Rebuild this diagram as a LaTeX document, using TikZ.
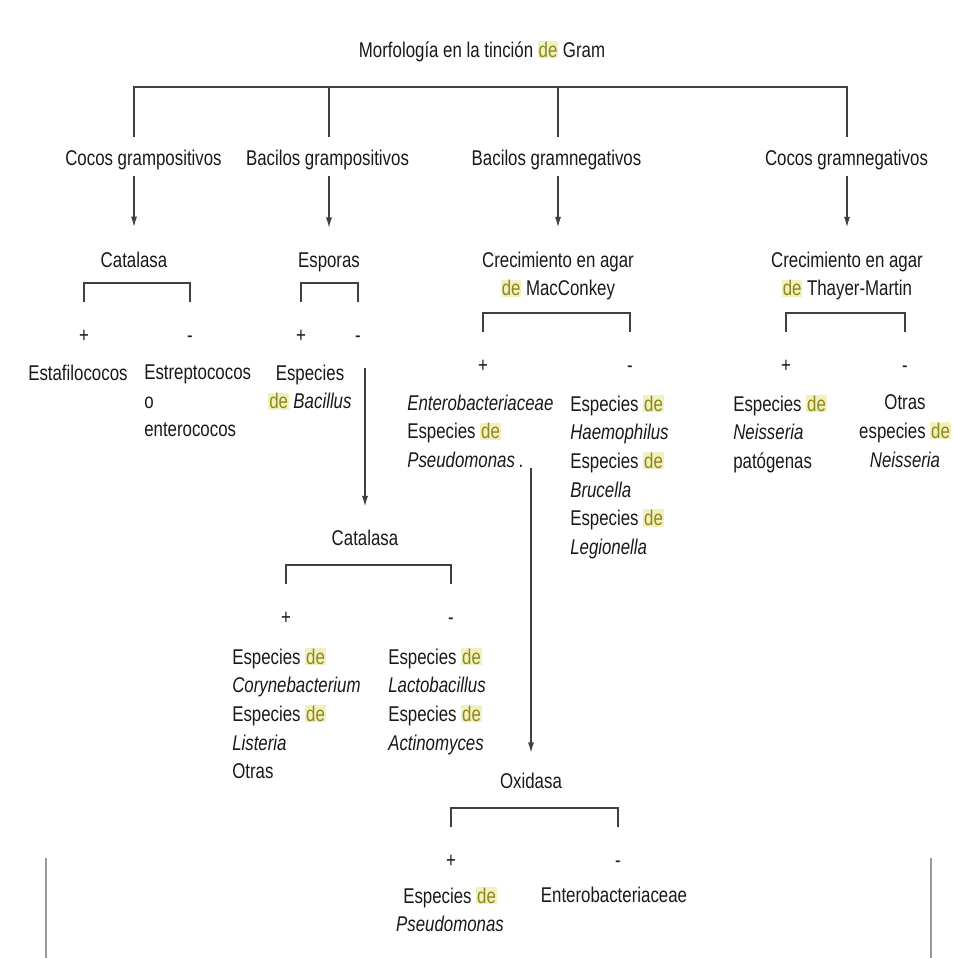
\documentclass[tikz,border=0pt]{standalone}
\usepackage{fontspec}
\setmainfont[FakeStretch=0.79]{Liberation Sans}
\usepackage{xcolor}
\usepackage{tikz}
\usetikzlibrary{calc, arrows.meta, positioning}

\definecolor{fondode}{RGB}{242,240,190}
\definecolor{textode}{RGB}{140,136,28}
\newcommand{\hde}{{\setlength{\fboxsep}{0.6pt}\colorbox{fondode}{\textcolor{textode}{de}}}}

\begin{document}
\begin{tikzpicture}[x=0.75pt, y=-0.75pt, >={Latex[length=8pt,width=4.6pt]},
    every node/.style={inner sep=0pt, text=black!90, font=\fontsize{16}{21.5}\selectfont},
    linea/.style={line width=1.1pt, draw=black!75},
    flecha/.style={linea, ->},
    signo/.style={anchor=base},
    marco/.style={line width=1.5pt, draw=black!40}]
    \useasboundingbox (0,0) rectangle (953,958);

    % Tiêu đề
    \node[anchor=base] (titulo) at (482,57) {Morfología en la tinción \hde{} Gram};
    \coordinate (barra) at ([yshift=-19pt]titulo.south);

    % Bốn nhóm theo hình thái
    \node[anchor=base] (cocpos) at (143.5,165) {Cocos grampositivos};
    \node[anchor=base] (bacpos) at (327.5,165) {Bacilos grampositivos};
    \node[anchor=base] (bacneg) at (556.5,165) {Bacilos gramnegativos};
    \node[anchor=base] (cocneg) at (846.5,165) {Cocos gramnegativos};

    % Các phép thử tầng hai
    \node[anchor=base] (cat1) at (134,267) {Catalasa};
    \node[anchor=base] (esp) at (329,267) {Esporas};
    \node[anchor=north, align=center] (mac) at (558,251.5) {Crecimiento en agar\\\hde{} MacConkey};
    \node[anchor=north, align=center] (thay) at (847,251.5) {Crecimiento en agar\\\hde{} Thayer-Martin};

    % Đường nối từ tiêu đề xuống
    \foreach \a/\b in {cocpos/cat1, bacpos/esp, bacneg/mac, cocneg/thay} {
        \draw[linea, shorten <=9.5pt] (\b |- \a.north) |- (barra);
        \draw[flecha, shorten <=4.5pt, shorten >=18pt] (\b |- \a.south) -- (\b.north);
    }

    % Dấu + và -
    \node[signo] (mas1) at (84,342) {+};
    \node[signo] (menos1) at (190,342) {-};
    \node[signo] (mas2) at (301,342) {+};
    \node[signo] (menos2) at (358,342) {-};
    \node[signo] (mas3) at (483,372) {+};
    \node[signo] (menos3) at (630,372) {-};
    \node[signo] (mas4) at (786,372) {+};
    \node[signo] (menos4) at (905,372) {-};
    \node[signo] (mas5) at (286,624) {+};
    \node[signo] (menos5) at (451,624) {-};
    \node[signo] (mas6) at (451,867) {+};
    \node[signo] (menos6) at (618,867) {-};

    % Ngoặc phân nhánh
    \foreach \p/\m in {mas1/menos1, mas2/menos2, mas3/menos3, mas4/menos4, mas5/menos5, mas6/menos6}
        \draw[linea] ([yshift=30pt]\p.base) -- ++(0,-19) -| ([yshift=30pt]\m.base);

    % Kết quả
    \node[anchor=base west] (estaf) at (28,380) {Estafilococos};
    \node[anchor=north west, align=left] (estrep) at (144,364.5) {Estreptococos\\o\\enterococos};
    \node[anchor=north, align=center] (esbac) at (310,364.5) {Especies\\\hde{} \textit{Bacillus}};
    \node[anchor=north west, align=left] (entpse) at (407,394.5) {\textit{Enterobacteriaceae}\\Especies \hde\\\textit{Pseudomonas}\,.};
    \node[anchor=north west, align=left] (haemo) at (570,394.5) {Especies \hde\\\textit{Haemophilus}\\Especies \hde\\\textit{Brucella}\\Especies \hde\\\textit{Legionella}};
    \node[anchor=north west, align=left] (neis) at (733,394.5) {Especies \hde\\\textit{Neisseria}\\patógenas};
    \node[anchor=north, align=center] (otras) at (905,394.5) {Otras\\especies \hde\\\textit{Neisseria}};

    % Nhánh Catalasa thứ hai
    \node[anchor=base] (cat2) at (365,545) {Catalasa};
    \node[anchor=north west, align=left] (cory) at (232,647.5) {Especies \hde\\\textit{Corynebacterium}\\Especies \hde\\\textit{Listeria}\\Otras};
    \node[anchor=north west, align=left] (lacto) at (388,647.5) {Especies \hde\\\textit{Lactobacillus}\\Especies \hde\\\textit{Actinomyces}};

    % Nhánh Oxidasa
    \node[anchor=base] (oxi) at (531,788) {Oxidasa};
    \node[anchor=north, align=center] (pseu) at (450,886.5) {Especies \hde\\\textit{Pseudomonas}};
    \node[anchor=base] (entero) at (614,902) {Enterobacteriaceae};

    % Mũi tên dài
    \draw[flecha, shorten <=19.5pt, shorten >=17pt] (cat2 |- menos2.base) -- (cat2.north);
    \draw[flecha, shorten >=14.5pt] (oxi |- entpse.south) -- (oxi.north);

    % Khung dưới
    \draw[marco] (45.5,858) -- (45.5,958);
    \draw[marco] (930.5,858) -- (930.5,958);
\end{tikzpicture}
\end{document}
